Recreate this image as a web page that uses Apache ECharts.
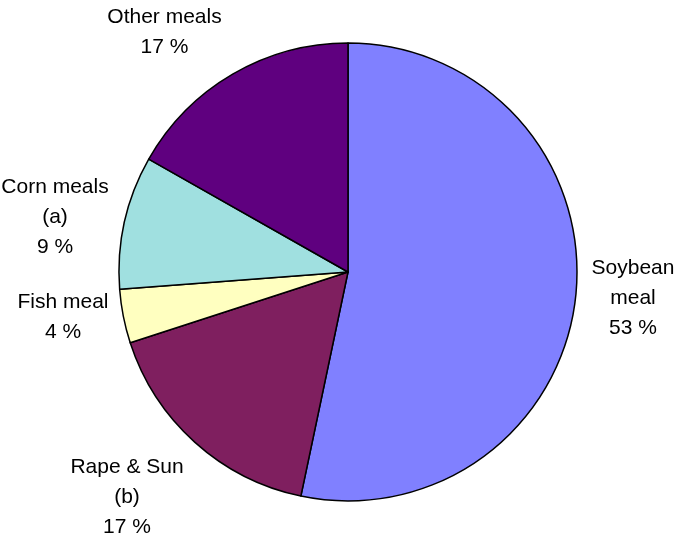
<!DOCTYPE html>
<html>
<head>
<meta charset="utf-8">
<script src="https://cdn.jsdelivr.net/npm/echarts@6/dist/echarts.min.js"></script>
<style>
  html, body { margin: 0; padding: 0; background: #fff; }
  #chart { width: 677px; height: 537px; }
</style>
</head>
<body>
<div id="chart"></div>
<script>
// Data (shares in %)
const categories = ["Soybean\nmeal", "Rape & Sun\n(b)", "Fish meal", "Corn meals\n(a)", "Other meals"];
const shares = [53.3, 16.7, 3.8, 9.4, 16.8];

// Styling
const sliceColors = ["#8080FF", "#7F1F5F", "#FFFFC0", "#A0E0E0", "#5F007F"];
// Label anchor points (text block centres), in pixels
const labelAnchors = [[633, 298], [127, 497], [63, 317], [55, 217], [164.5, 32]];

const chart = echarts.init(document.getElementById('chart'), null, { renderer: 'canvas' });

const seriesData = categories.map((name, i) => ({
  name: name,
  value: shares[i],
  itemStyle: { color: sliceColors[i] }
}));

chart.setOption({
  animation: false,
  backgroundColor: '#ffffff',
  series: [{
    type: 'pie',
    center: [348, 272],
    radius: [0, 229],
    startAngle: 90,
    clockwise: true,
    avoidLabelOverlap: false,
    data: seriesData,
    itemStyle: { borderColor: '#000000', borderWidth: 1.5 },
    emphasis: { disabled: true },
    label: {
      show: true,
      position: 'outside',
      fontFamily: 'Liberation Sans, Arial, sans-serif',
      fontSize: 21,
      lineHeight: 30,
      color: '#000000',
      align: 'center',
      formatter: p => p.name + '\n' + Math.round(p.percent) + ' %'
    },
    labelLine: { show: false },
    labelLayout: params => {
      const a = labelAnchors[params.dataIndex];
      return { x: a[0], y: a[1], align: 'center', verticalAlign: 'middle' };
    }
  }]
});
</script>
</body>
</html>
